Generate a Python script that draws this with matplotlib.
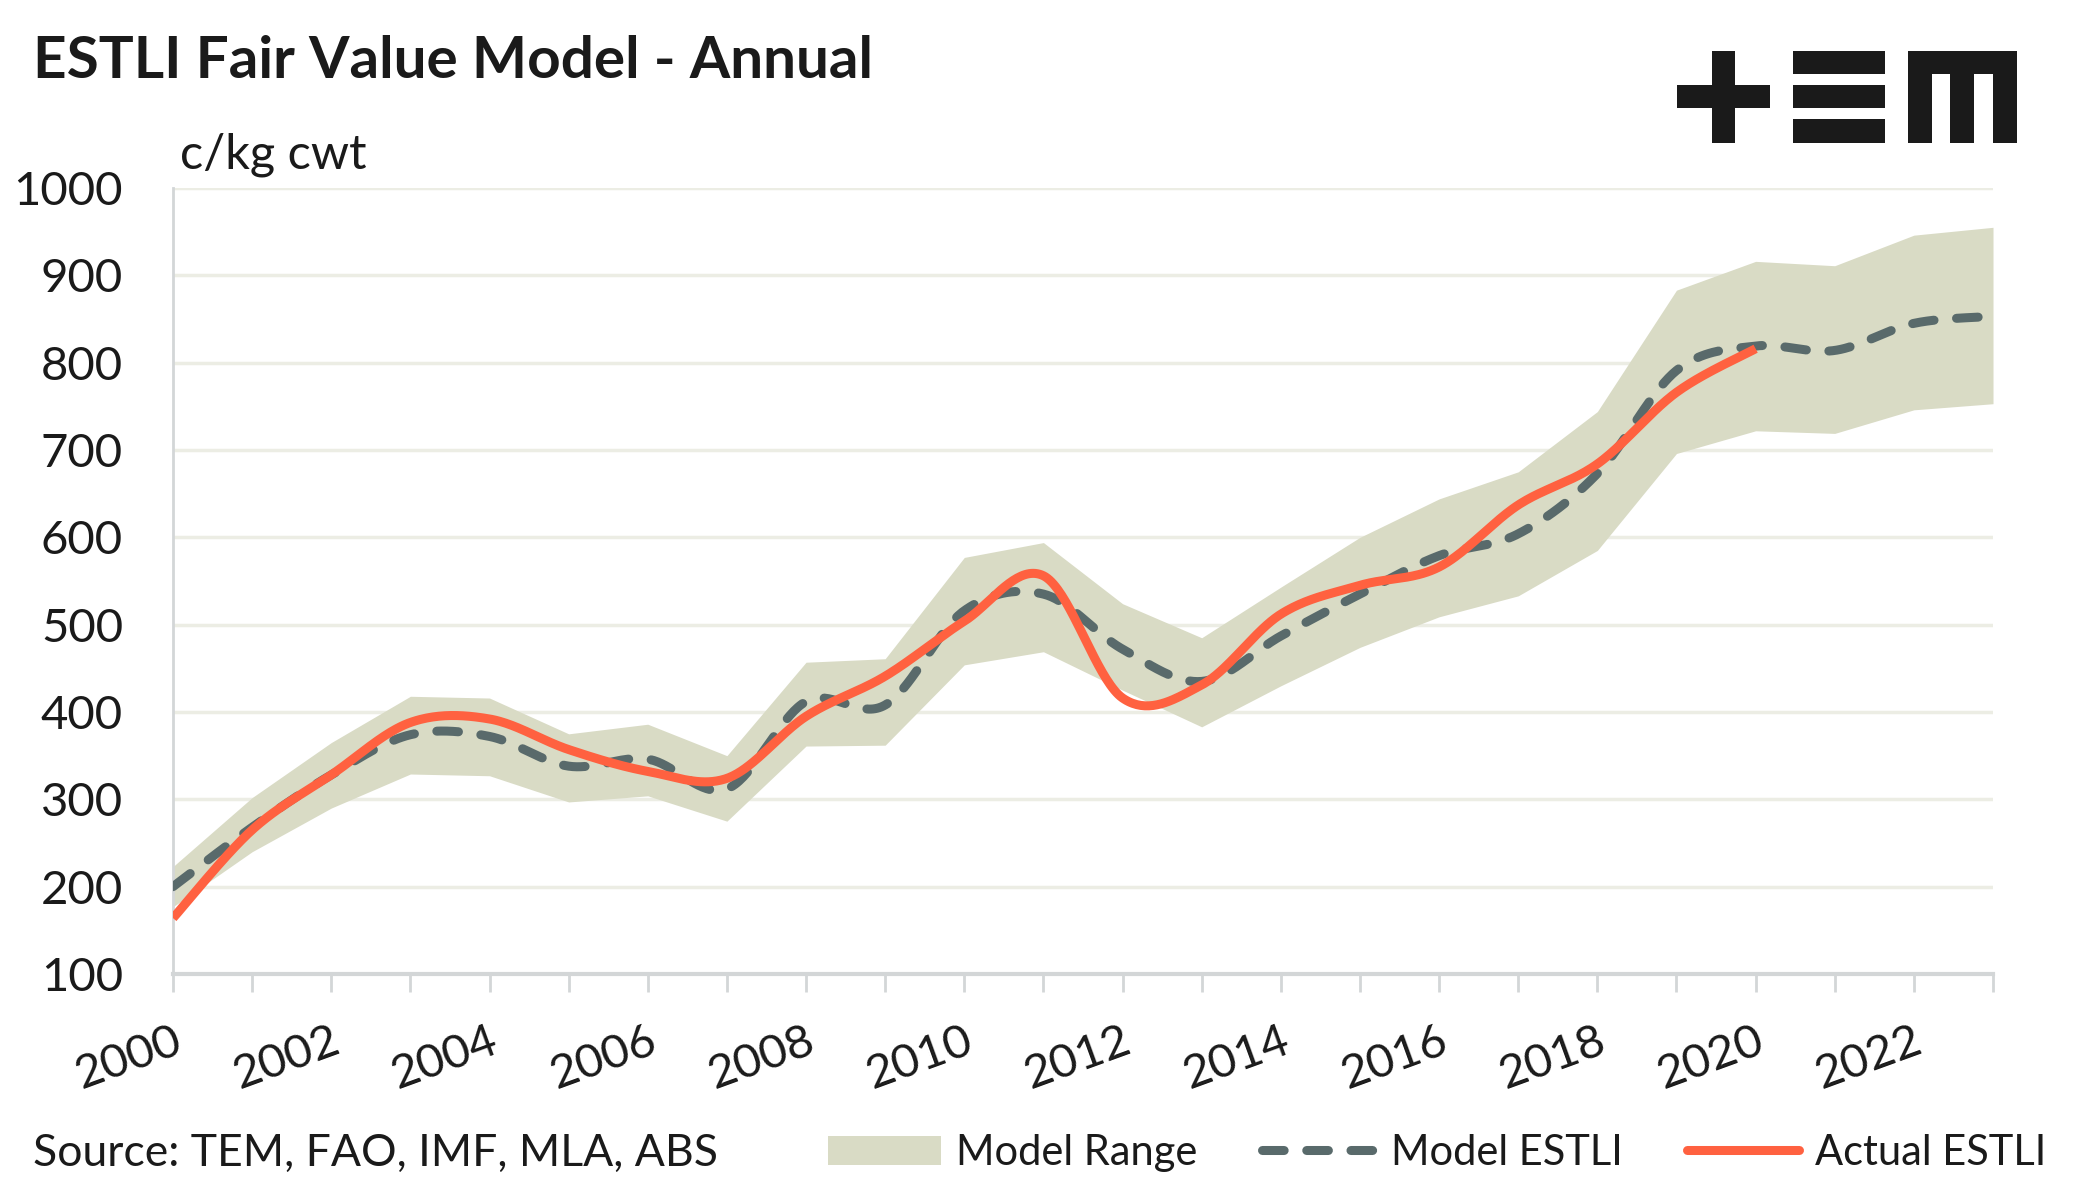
import matplotlib.pyplot as plt
import numpy as np
from matplotlib.patches import Rectangle, Patch
from matplotlib.lines import Line2D

plt.rcParams['font.family'] = ['Lato', 'DejaVu Sans']

# Datos (c/kg cwt)
years = list(range(2000, 2024))
range_low = [177, 240, 290, 329, 327, 297, 304, 275, 361, 362, 454, 469,
             425, 383, 430, 474, 509, 533, 585, 696, 722, 719, 746, 753]
range_high = [223, 302, 365, 418, 416, 375, 386, 350, 457, 461, 577, 594,
              524, 485, 543, 600, 644, 675, 744, 883, 916, 911, 946, 955]
model_estli = [200, 268, 328, 374, 372, 338, 346, 312, 412, 408, 516, 535,
               472, 435, 487, 535, 579, 604, 673, 791, 819, 814, 845, 853]
actual_years = list(range(2000, 2021))
actual_estli = [164, 265, 328, 388, 392, 357, 332, 324, 395, 441, 504, 556,
                416, 431, 512, 545, 566, 637, 684, 766, 816]

tick_years = list(range(2000, 2023, 2))

BAND = '#d9dbc5'
MODEL = '#596a6b'
ACTUAL = '#ff6140'
GRID = '#ecede4'
AXIS = '#d3d6d7'
TEXT = '#1a1a1a'


def smooth(x, y, n=40):
    # curva suavizada tipo Excel (Catmull-Rom con Bezier)
    x = np.asarray(x, float)
    y = np.asarray(y, float)
    px = np.r_[x[0], x, x[-1]]
    py = np.r_[y[0], y, y[-1]]
    t = np.linspace(0, 1, n)
    xs, ys = [], []
    for i in range(1, len(px) - 2):
        p0, p1, p2, p3 = (np.array([px[j], py[j]]) for j in (i - 1, i, i + 1, i + 2))
        c1 = p1 + (p2 - p0) / 6
        c2 = p2 - (p3 - p1) / 6
        pts = ((1 - t) ** 3)[:, None] * p1 + (3 * (1 - t) ** 2 * t)[:, None] * c1 \
            + (3 * (1 - t) * t ** 2)[:, None] * c2 + (t ** 3)[:, None] * p2
        xs.extend(pts[:, 0])
        ys.extend(pts[:, 1])
    return np.array(xs), np.array(ys)


fig = plt.figure(figsize=(20.9, 12), dpi=100)
ax = fig.add_axes([173 / 2090, 1 - 974 / 1200, (1993 - 173) / 2090, (974 - 188) / 1200])

ax.fill_between(years, range_low, range_high, color=BAND, linewidth=0, zorder=1)
mx, my = smooth(years, model_estli)
ax.plot(mx, my, color=MODEL, lw=6.5, dashes=(2.4, 2.5), dash_capstyle='round', zorder=3)
axx, axy = smooth(actual_years, actual_estli)
ax.plot(axx, axy, color=ACTUAL, lw=6.5, solid_capstyle='butt', zorder=4)

ax.set_xlim(2000, 2023)
ax.set_ylim(100, 1000)
ax.set_yticks(range(100, 1001, 100))
ax.set_xticks(tick_years)
ax.set_xticks(years, minor=True)
ax.set_xticklabels([str(y) for y in tick_years], rotation=20, ha='right',
                   rotation_mode='anchor')
ax.grid(axis='y', color=GRID, lw=2.5, zorder=0)
ax.set_axisbelow(True)

for s in ['top', 'right']:
    ax.spines[s].set_visible(False)
ax.spines['left'].set_color(AXIS)
ax.spines['left'].set_linewidth(2)
ax.spines['bottom'].set_color(AXIS)
ax.spines['bottom'].set_linewidth(3)

ax.tick_params(axis='y', length=0, pad=36, labelsize=34, labelcolor=TEXT)
ax.tick_params(axis='x', which='both', length=13, width=2, color=AXIS,
               labelsize=34, labelcolor=TEXT, pad=20)

# Títulos y textos
fig.text(33 / 2090, 1 - 62 / 1200, 'ESTLI Fair Value Model - Annual', fontsize=42,
         fontweight='bold', va='center', ha='left', color=TEXT)
fig.text(180 / 2090, 1 - 155 / 1200, 'c/kg cwt', fontsize=35, va='center', ha='left',
         color=TEXT)
fig.text(33 / 2090, 1 - 1153 / 1200, 'Source: TEM, FAO, IMF, MLA, ABS', fontsize=32,
         va='center', ha='left', color=TEXT)

# Leyenda
handles = [Patch(facecolor=BAND, edgecolor='none', label='Model Range'),
           Line2D([], [], color=MODEL, lw=6.5, dashes=(2.4, 2.5), dash_capstyle='round',
                  label='Model ESTLI'),
           Line2D([], [], color=ACTUAL, lw=6.5, solid_capstyle='round', label='Actual ESTLI')]
fig.legend(handles=handles, loc='center left', bbox_to_anchor=(828 / 2090, 1 - 1153 / 1200),
           ncol=3, frameon=False, fontsize=30, handlelength=2.7, handletextpad=0.38,
           columnspacing=1.55, borderpad=0, borderaxespad=0, labelcolor=TEXT)


# Logo +EM
def logo_rect(x0, y0, x1, y1):
    fig.add_artist(Rectangle((x0 / 2090, 1 - y1 / 1200), (x1 - x0) / 2090, (y1 - y0) / 1200,
                             transform=fig.transFigure, color=TEXT, lw=0))


logo_rect(1677, 85, 1770, 108)
logo_rect(1712, 51, 1735, 143)
for y0, y1 in [(51, 74), (85, 108), (119, 143)]:
    logo_rect(1793, y0, 1885, y1)
logo_rect(1908, 51, 2017, 74)
for x0, x1 in [(1908, 1932), (1950, 1974), (1993, 2017)]:
    logo_rect(x0, 51, x1, 143)

fig.savefig('out.png', dpi=100)
